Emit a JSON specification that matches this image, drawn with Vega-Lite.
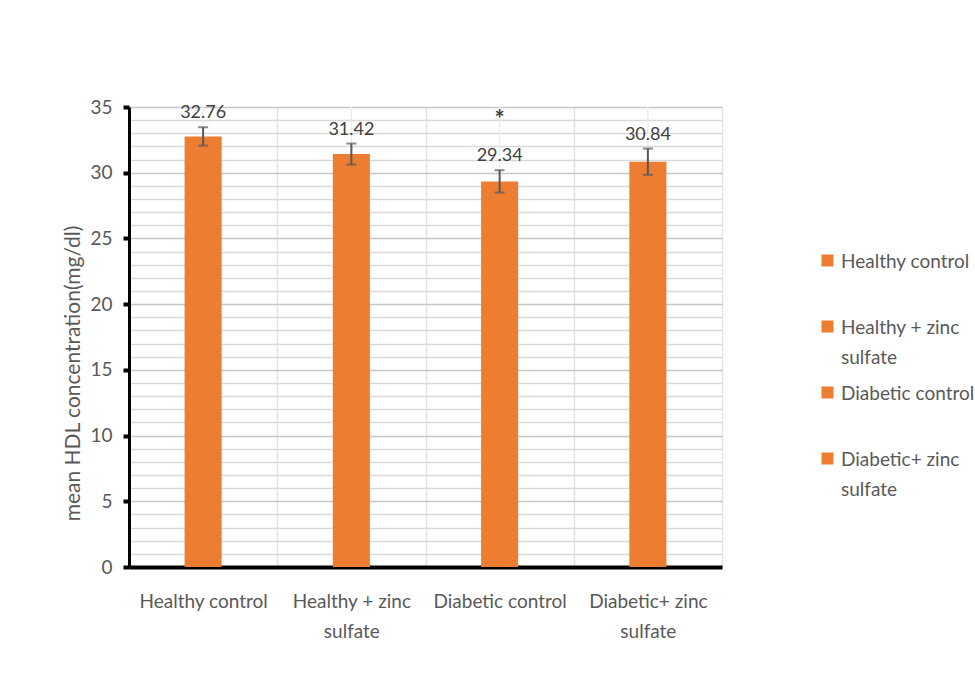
{
  "$schema": "https://vega.github.io/schema/vega-lite/v6.json",
  "width": 593,
  "height": 460,
  "autosize": {"type": "none"},
  "padding": {"left": 129, "top": 107, "right": 253, "bottom": 110},
  "background": "white",
  "config": {"font": "Lato", "view": {"stroke": null}},
  "data": {
    "values": [
      {"group": "Healthy control", "mean": 32.76, "low": 32.06, "high": 33.46, "sig": ""},
      {"group": "Healthy + zinc sulfate", "mean": 31.42, "low": 30.62, "high": 32.22, "sig": ""},
      {"group": "Diabetic control", "mean": 29.34, "low": 28.49, "high": 30.19, "sig": "*"},
      {"group": "Diabetic+ zinc sulfate", "mean": 30.84, "low": 29.84, "high": 31.84, "sig": ""}
    ]
  },
  "encoding": {
    "x": {
      "field": "group",
      "type": "nominal",
      "sort": null,
      "scale": {"paddingInner": 0, "paddingOuter": 0},
      "axis": {
        "title": null,
        "labelAngle": 0,
        "labelFontSize": 19,
        "labelColor": "#595959",
        "labelPadding": 25,
        "labelLineHeight": 30,
        "labelBaseline": "top",
        "labelExpr": "indexof(datum.label, ' sulfate') >= 0 ? [replace(datum.label, ' sulfate', ''), 'sulfate'] : datum.label",
        "domainColor": "#000000",
        "domainWidth": 4,
        "ticks": false,
        "grid": true,
        "tickBand": "extent",
        "gridColor": "#e2e2e2",
        "gridWidth": 1.5
      }
    }
  },
  "layer": [
    {
      "mark": {"type": "rule", "color": "#ececec", "strokeWidth": 1.5},
      "encoding": {
        "y": {
          "datum": 0,
          "type": "quantitative",
          "scale": {"domain": [0, 35], "nice": false},
          "axis": {
            "values": [0,1,2,3,4,5,6,7,8,9,10,11,12,13,14,15,16,17,18,19,20,21,22,23,24,25,26,27,28,29,30,31,32,33,34,35],
            "tickCount": 40,
            "labelExpr": "datum.value % 5 === 0 ? datum.label : ''",
            "labelOverlap": false,
            "labelFontSize": 19,
            "labelColor": "#595959",
            "labelPadding": 11,
            "domainColor": "#000000",
            "domainWidth": 3,
            "tickColor": "#000000",
            "tickWidth": 4,
            "tickSize": 6,
            "tickOpacity": {"condition": {"test": "datum.value % 5 === 0", "value": 1}, "value": 0},
            "grid": true,
            "gridColor": {"condition": {"test": "datum.value % 5 === 0", "value": "#c6c6c6"}, "value": "#d9d9d9"},
            "gridWidth": 1.5,
            "title": "mean HDL concentration(mg/dl)",
            "titleFontSize": 21,
            "titleFontWeight": "normal",
            "titleColor": "#595959",
            "titleAngle": 270,
            "titleAlign": "center",
            "titleBaseline": "middle",
            "titleX": -56,
            "titleY": 266
          }
        },
        "y2": {"datum": 35}
      }
    },
    {
      "mark": {"type": "bar", "width": {"band": 0.25}},
      "encoding": {
        "y": {"field": "mean", "type": "quantitative"},
        "color": {
          "field": "group",
          "type": "nominal",
          "sort": null,
          "scale": {"range": ["#ED7D31", "#ED7D31", "#ED7D31", "#ED7D31"]},
          "legend": {
            "orient": "none",
            "legendX": 689,
            "legendY": 144,
            "title": null,
            "symbolType": "square",
            "symbolSize": 144,
            "symbolStrokeWidth": 0,
            "labelFontSize": 19,
            "labelColor": "#595959",
            "labelLimit": 300,
            "labelOffset": 4,
            "labelBaseline": "alphabetic",
            "labelExpr": "indexof(datum.label, ' sulfate') >= 0 ? [replace(datum.label, ' sulfate', ''), 'sulfate'] : [datum.label, ' ']",
            "rowPadding": 15,
            "encode": {"labels": {"update": {"dy": {"value": 7}, "lineHeight": {"value": 30}}}}
          }
        }
      }
    },
    {
      "mark": {"type": "rule", "color": "#595959", "strokeWidth": 2},
      "encoding": {
        "y": {"field": "low", "type": "quantitative"},
        "y2": {"field": "high"}
      }
    },
    {
      "mark": {"type": "tick", "color": "#595959", "thickness": 2, "size": 10},
      "encoding": {"y": {"field": "low", "type": "quantitative"}}
    },
    {
      "mark": {"type": "tick", "color": "#595959", "thickness": 2, "size": 10},
      "encoding": {"y": {"field": "high", "type": "quantitative"}}
    },
    {
      "mark": {"type": "text", "fontSize": 18, "color": "#404040", "baseline": "alphabetic", "dy": -9},
      "encoding": {
        "y": {"field": "high", "type": "quantitative"},
        "text": {"field": "mean", "type": "quantitative", "format": ".2f"}
      }
    },
    {
      "transform": [{"filter": "datum.sig != ''"}],
      "mark": {"type": "text", "fontSize": 24, "fontWeight": "bold", "color": "#404040", "baseline": "alphabetic", "dy": -42},
      "encoding": {
        "y": {"field": "high", "type": "quantitative"},
        "text": {"field": "sig"}
      }
    }
  ]
}
